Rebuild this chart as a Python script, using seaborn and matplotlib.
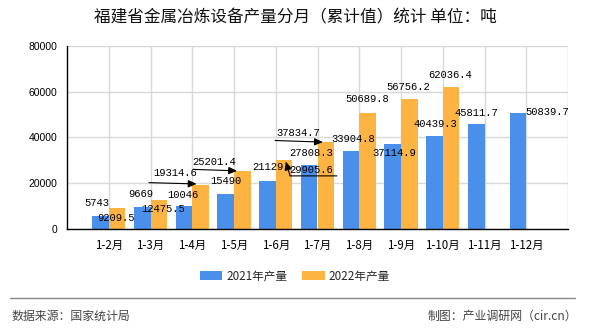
import matplotlib
matplotlib.use("Agg")
import matplotlib.pyplot as plt
import matplotlib.transforms as mtransforms
from matplotlib.patches import Patch
from matplotlib.lines import Line2D
import seaborn as sns
import pandas as pd
import numpy as np

# ---------------- data ----------------
months = ["1-2月", "1-3月", "1-4月", "1-5月", "1-6月", "1-7月",
          "1-8月", "1-9月", "1-10月", "1-11月", "1-12月"]
series_names = ["2021年产量", "2022年产量"]
values_2021 = [5743, 9669, 10046, 15490, 21129, 27808.3,
               33904.8, 37114.9, 40439.3, 45811.7, 50839.7]
values_2022 = [9209.5, 12475.5, 19314.6, 25201.4, 29905.6, 37834.7,
               50689.8, 56756.2, 62036.4, np.nan, np.nan]
label_2021 = ["5743", "9669", "10046", "15490", "21129", "27808.3",
              "33904.8", "37114.9", "40439.3", "45811.7", "50839.7"]
label_2022 = ["9209.5", "12475.5", "19314.6", "25201.4", "29905.6",
              "37834.7", "50689.8", "56756.2", "62036.4", "", ""]
y_ticks = [0, 20000, 40000, 60000, 80000]

title = "福建省金属冶炼设备产量分月（累计值）统计 单位：吨"
source_text = "数据来源：国家统计局"
maker_text = "制图：产业调研网（cir.cn）"

# ---------------- styling ----------------
blue = "#4A8FEA"
orange = "#FDB443"

sns.set_style("white")
plt.rcParams["font.family"] = ["Noto Sans CJK SC", "DejaVu Sans"]
plt.rcParams["axes.unicode_minus"] = False

df = pd.DataFrame({
    "月份": months * 2,
    "产量": values_2021 + values_2022,
    "系列": [series_names[0]] * len(months) + [series_names[1]] * len(months),
})

W, H = 590, 330
fig = plt.figure(figsize=(W / 100, H / 100), dpi=100)
ax = fig.add_axes([67 / W, 1 - 229 / H, (568 - 67) / W, (229 - 45.7) / H])

sns.barplot(data=df, x="月份", y="产量", hue="系列", order=months,
            hue_order=series_names, palette=[blue, orange], saturation=1,
            width=0.8, errorbar=None, linewidth=0, legend=False, ax=ax)

ax.set_xlim(-1, 11)
ax.set_ylim(0, 80000)
ax.set_yticks(y_ticks)
ax.set_yticklabels([str(v) for v in y_ticks], family=["Liberation Sans"], fontsize=7.5)
ax.set_xticks(range(0, 12))
ax.set_xticklabels(months + [""], fontsize=8.3)
ax.set_xlabel("")
ax.set_ylabel("")
ax.grid(True, color="#D9D9D9", lw=1)
ax.set_axisbelow(True)
for s in ["top", "right"]:
    ax.spines[s].set_visible(False)
for s in ["left", "bottom"]:
    ax.spines[s].set_color("black")
    ax.spines[s].set_linewidth(1)
ax.tick_params(axis="both", which="both", direction="out", length=4.5,
               width=1, color="black", pad=2.5, labelcolor="black")

# ---------------- data labels ----------------
off_2021 = [(-3.5, 13), (-1, 13), (-1, 11), (0, 12.5), (0.5, 13.5), (1.5, 12.5),
            (2, 12.5), (1.5, -9), (1, 12.5), (0, 11), (29.5, 0.5)]
off_2022 = [(-1, -10), (4, -8.5), (-25.6, 12), (-28, 9.5), (27.5, -9.5),
            (-27.7, 9.5), (0, 14), (-1.5, 12), (-1, 12), (0, 0), (0, 0)]
# leader lines: index -> list of points (pixel offsets from bar top), last is arrow tip
leaders = {
    2: [(-51.6, 2.1), (-4, 0.8)],
    3: [(-49.3, 1.9), (-5.3, 0.4)],
    5: [(-50.7, 1.8), (-3, 0.2)],
    4: [(52.7, -15.4), (6, -15.4), (1.7, -1.1)],
}

lab_font = dict(family=["Liberation Mono"], fontsize=7.6, color="black")

def bar_tops(container):
    pts = []
    for p in container.patches:
        pts.append((p.get_x() + p.get_width() / 2, p.get_height()))
    return pts

for cont, labels, offs, is22 in [(ax.containers[0], label_2021, off_2021, False),
                                  (ax.containers[1], label_2022, off_2022, True)]:
    for i, ((bx, by), lab, (dx, dy)) in enumerate(zip(bar_tops(cont), labels, offs)):
        if lab == "" or not np.isfinite(by):
            continue
        ax.annotate(lab, xy=(bx, by), xytext=(dx, dy), textcoords="offset pixels",
                    ha="center", va="center", zorder=5, **lab_font)
        if is22 and i in leaders:
            pts = leaders[i]
            for j in range(len(pts) - 1):
                p0, p1 = pts[j], pts[j + 1]
                tip_tr = mtransforms.offset_copy(ax.transData, fig=fig,
                                                 x=p1[0], y=p1[1], units="dots")
                last = (j == len(pts) - 2)
                ax.annotate("", xy=(bx, by), xycoords=tip_tr,
                            xytext=(p0[0] - p1[0], p0[1] - p1[1]),
                            textcoords="offset pixels",
                            arrowprops=dict(arrowstyle="-|>,head_length=0.5,head_width=0.22" if last else "-",
                                            color="black", lw=0.8,
                                            shrinkA=0, shrinkB=0),
                            zorder=5)

# ---------------- legend / title / footer ----------------
handles = [Patch(facecolor=blue, edgecolor="none"), Patch(facecolor=orange, edgecolor="none")]
fig.legend(handles, series_names, loc="center", bbox_to_anchor=(0.5, 1 - 276 / H),
           ncol=2, frameon=False, fontsize=8.4, handlelength=1.9, handleheight=0.7,
           handletextpad=0.35, columnspacing=1.3)

fig.text(0.5, 1 - 18 / H, title, ha="center", va="center", fontsize=12, color="#111111")

fig.add_artist(Line2D([10 / W, 575 / W], [1 - 298 / H] * 2, color="#888888", lw=1))
fig.text(12 / W, 1 - 316 / H, source_text, ha="left", va="center", fontsize=8.6, color="#444444")
fig.text(577 / W, 1 - 316 / H, maker_text, ha="right", va="center", fontsize=8.6, color="#444444")

fig.savefig("out.png", dpi=100)
